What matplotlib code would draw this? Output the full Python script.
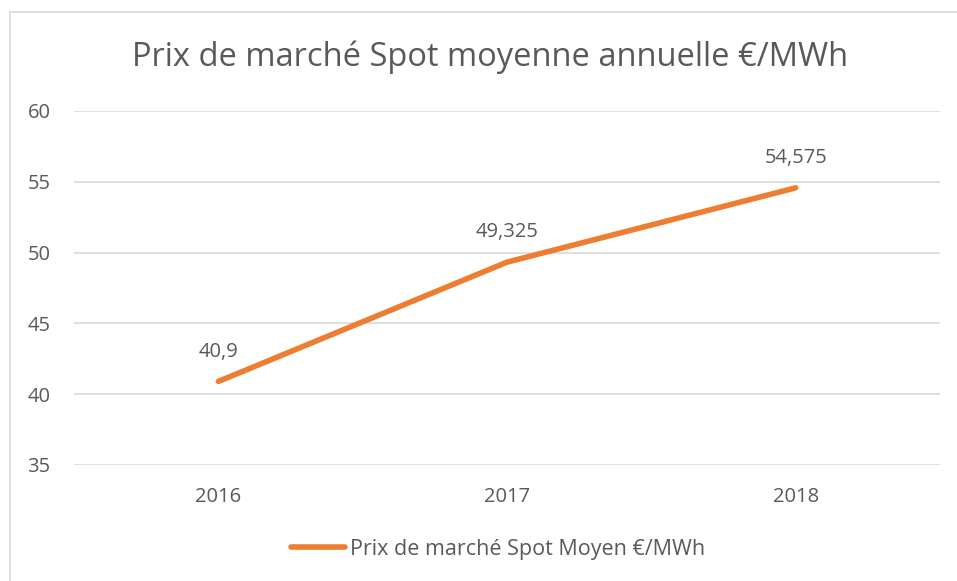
import matplotlib
matplotlib.use("Agg")
import matplotlib.pyplot as plt
from matplotlib.patches import Rectangle
from matplotlib.lines import Line2D

years = ["2016", "2017", "2018"]
prices = [40.9, 49.325, 54.575]
labels = ["40,9", "49,325", "54,575"]
yticks = [35, 40, 45, 50, 55, 60]

plt.rcParams['font.family'] = ['Open Sans', 'DejaVu Sans']
grey = "#595959"
orange = "#ED7D31"
fs = 14.5

W, H = 957, 581
fig = plt.figure(figsize=(W/100, H/100), dpi=100)
fig.patch.set_facecolor("white")
# outer chart border
fig.add_artist(Rectangle((10/W, -0.05), 1.0, 1 - 12/H + 0.05, transform=fig.transFigure,
                         fill=False, edgecolor="#D9D9D9", linewidth=1.2))

ax = fig.add_axes([74/W, 1 - 465/H, (940-74)/W, (465-111)/H])
x = list(range(len(years)))
ax.plot(x, prices, color=orange, linewidth=4, solid_capstyle="round", solid_joinstyle="round")
for xi, v, lab in zip(x, prices, labels):
    ax.annotate(lab, (xi, v), xytext=(0, 21.5), textcoords="offset points",
                ha="center", va="center", fontsize=fs, color=grey)

ax.set_xlim(-0.5, len(years) - 0.5)
ax.set_ylim(35, 60)
ax.set_yticks(yticks)
ax.set_yticklabels([str(t) for t in yticks])
ax.set_xticks(x)
ax.set_xticklabels(years)
ax.tick_params(axis="both", length=0, labelsize=fs, labelcolor=grey)
ax.tick_params(axis="y", pad=17)
ax.tick_params(axis="x", pad=16)
ax.grid(axis="y", color="#D9D9D9", linewidth=1.2)
ax.set_axisbelow(True)
for s in ax.spines.values():
    s.set_visible(False)

fig.text(490/W, 1 - 57/H, "Prix de marché Spot moyenne annuelle €/MWh",
         ha="center", va="center", fontsize=23.5, color=grey)

handle = Line2D([], [], color=orange, linewidth=4, solid_capstyle="round")
fig.legend([handle], ["Prix de marché Spot Moyen €/MWh"], loc="center",
           bbox_to_anchor=(498/W, 1 - 549/H), frameon=False, fontsize=15.5,
           labelcolor=grey, handlelength=2.5, handletextpad=0.25)

fig.savefig("out.png", dpi=100, facecolor="white")
